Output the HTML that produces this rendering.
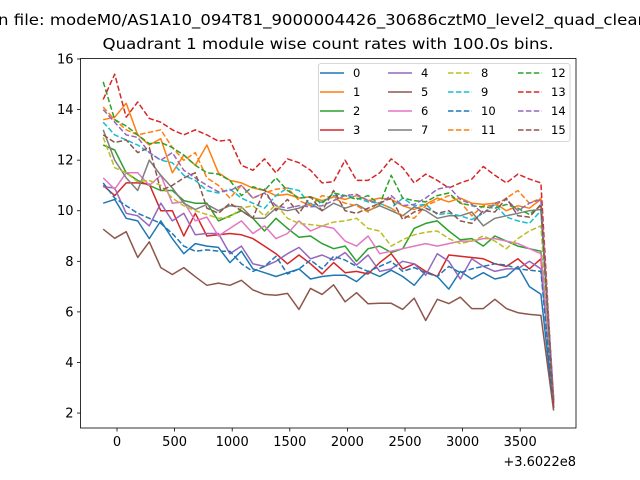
<!DOCTYPE html>
<html><head><meta charset="utf-8"><style>
html,body{margin:0;padding:0;background:#fff}
svg{display:block;font-family:"DejaVu Sans","Liberation Sans",sans-serif}
</style></head><body>
<svg id="chart" width="640" height="480" viewBox="0 0 640 480">
<text x="-2" y="25" font-size="15" textLength="650" lengthAdjust="spacingAndGlyphs">n file: modeM0/AS1A10_094T81_9000004426_30686cztM0_level2_quad_clean</text>
<text x="328" y="49" font-size="15.5" text-anchor="middle" textLength="451" lengthAdjust="spacingAndGlyphs">Quadrant 1 module wise count rates with 100.0s bins.</text>
<g id="plot"></g>
</svg>
<script>
const categories = [-120,-20,80,180,280,380,480,580,680,780,880,980,1080,1180,1280,1380,1480,1580,1680,1780,1880,1980,2080,2180,2280,2380,2480,2580,2680,2780,2880,2980,3080,3180,3280,3380,3480,3580,3680,3790];
const s0 = [10.3,10.45,9.7,9.6,8.9,9.6,8.9,8.3,8.7,8.6,8.55,7.95,8.4,7.7,7.55,7.4,7.55,7.7,7.3,7.4,7.45,7.45,7.2,7.6,7.4,7.65,7.4,7.05,7.6,7.4,6.9,7.6,7.3,7.55,7.3,7.4,7.8,7.0,6.7,2.2];
const s1 = [13.6,13.7,14.25,13.0,12.6,12.85,11.5,12.2,11.8,12.6,11.5,11.2,11.1,10.9,10.8,10.6,10.65,10.5,10.55,10.4,10.55,10.45,10.6,10.4,10.5,10.45,10.2,10.05,10.25,10.5,10.35,10.5,10.3,10.25,10.3,10.0,10.2,10.1,10.45,2.3];
const s2 = [12.6,12.4,11.5,11.2,11.0,10.8,10.8,10.4,10.3,10.3,9.6,9.8,10.0,9.7,9.2,9.7,9.3,8.95,9.0,8.7,8.5,8.6,8.0,8.5,8.6,8.35,8.5,9.3,9.5,9.6,9.2,8.85,8.9,8.6,9.0,8.8,8.6,8.5,8.4,2.4];
const s3 = [11.0,10.6,11.1,11.1,11.05,10.0,10.0,9.0,9.9,9.0,9.05,9.1,9.05,8.9,8.6,8.3,7.9,8.25,7.9,7.5,7.95,7.55,7.6,7.5,7.95,8.3,7.7,7.9,7.6,7.4,8.25,8.2,8.15,8.1,7.9,7.8,8.1,7.7,8.1,2.5];
const s4 = [10.95,10.9,9.9,9.8,9.4,10.3,9.6,9.9,9.05,9.1,9.1,8.3,8.6,7.9,7.8,8.0,8.3,8.55,8.1,8.25,8.05,8.35,7.85,8.25,7.6,7.7,8.0,7.9,7.45,8.3,8.0,7.3,8.1,7.8,7.6,7.7,7.7,8.0,7.7,2.6];
const s5 = [9.27,8.91,9.17,8.15,8.77,7.75,7.48,7.75,7.39,7.05,7.14,7.05,7.25,6.87,6.69,6.66,6.73,6.1,6.93,6.69,7.07,6.4,6.76,6.32,6.34,6.34,6.1,6.54,5.66,6.5,6.33,6.58,6.13,6.13,6.5,6.13,5.97,5.9,5.86,2.1];
const s6 = [11.3,10.85,11.5,11.5,11.0,11.4,10.3,10.35,9.6,9.75,9.0,9.3,9.6,9.1,9.4,8.9,9.1,9.6,9.2,9.4,9.3,8.8,8.6,9.0,8.3,8.4,8.5,8.6,8.7,8.6,8.7,8.8,8.8,8.9,8.9,8.8,8.7,8.5,8.3,2.4];
const s7 = [13.2,12.0,11.3,10.8,12.0,11.4,10.9,10.3,10.05,10.25,10.0,10.2,10.15,9.7,9.7,10.1,10.0,10.1,10.3,10.0,10.3,10.1,10.25,10.0,10.2,10.0,9.8,10.15,10.0,9.7,9.8,9.8,9.95,9.4,9.7,9.8,9.9,10.0,10.05,2.6];
const s8 = [12.9,11.7,11.5,11.15,11.2,11.0,10.5,10.2,10.0,9.85,9.7,9.75,10.1,10.2,9.8,10.25,9.7,9.5,9.45,9.4,9.55,9.6,9.7,9.3,9.2,8.6,8.85,9.05,9.15,9.2,8.9,8.7,8.8,9.0,8.8,8.5,8.9,9.2,9.4,2.3];
const s9 = [13.5,13.0,12.8,12.6,12.3,12.0,11.9,11.4,11.2,10.8,10.7,10.85,10.5,10.3,10.1,10.6,10.9,10.8,10.2,10.35,10.6,10.6,10.5,10.35,10.3,10.1,10.5,10.2,10.25,9.85,9.9,9.8,9.65,9.9,10.25,9.75,9.6,9.5,10.0,2.4];
const s10 = [11.1,10.5,10.2,9.9,9.7,9.5,9.1,8.6,8.4,8.45,8.4,8.4,7.9,7.6,7.8,8.2,7.5,7.7,8.05,7.7,8.2,8.05,7.8,7.6,7.8,8.0,7.6,7.75,7.55,7.4,7.8,7.55,7.7,7.8,7.9,7.85,7.7,7.65,7.6,2.2];
const s11 = [14.1,13.6,13.2,13.0,13.1,13.2,12.5,12.0,12.3,11.3,11.0,10.5,11.0,10.5,10.7,10.85,10.9,10.4,10.2,10.6,10.5,10.3,10.2,9.95,10.3,10.1,9.8,9.7,10.2,10.4,10.6,10.35,9.8,10.2,10.2,10.5,10.8,10.3,10.5,2.5];
const s12 = [15.1,13.6,13.35,13.0,12.65,12.7,12.5,12.2,11.8,11.5,11.45,11.2,10.6,10.95,10.8,11.3,10.8,10.5,10.55,10.3,10.7,10.6,10.45,10.6,10.25,11.4,10.5,10.4,10.35,10.6,10.7,10.3,10.2,10.15,10.1,10.25,10.1,9.85,10.2,2.5];
const s13 = [14.4,15.4,13.7,14.3,13.65,13.5,13.2,13.0,13.2,13.0,12.75,12.8,11.8,11.6,12.05,11.5,12.05,11.9,11.6,11.1,11.15,12.0,11.2,11.2,11.5,12.05,11.7,11.1,11.45,11.2,10.9,11.1,11.25,11.75,11.4,11.1,11.45,11.25,11.1,2.3];
const s14 = [14.0,13.5,13.0,12.9,12.3,12.0,12.3,11.6,11.3,11.0,10.75,10.8,11.0,10.5,10.7,10.2,10.1,10.2,10.15,10.2,10.4,10.6,10.65,10.4,10.3,10.6,10.2,10.25,10.5,10.85,10.95,10.45,10.25,9.9,10.3,10.45,10.0,10.3,10.45,2.6];
const s15 = [13.0,12.7,12.8,12.3,12.5,10.8,11.0,11.3,11.5,10.1,9.9,10.3,10.0,9.7,10.85,10.0,10.45,9.9,10.55,10.0,10.8,10.0,9.9,10.1,10.3,10.5,9.65,9.95,10.1,9.9,10.0,9.6,9.5,10.0,9.95,10.5,9.8,9.75,10.25,2.2];
const seriesNames = ["0","1","2","3","4","5","6","7","8","9","10","11","12","13","14","15"];
const xTicks = [0,500,1000,1500,2000,2500,3000,3500];
const yTicks = [2,4,6,8,10,12,14,16];

const series=[s0,s1,s2,s3,s4,s5,s6,s7,s8,s9,s10,s11,s12,s13,s14,s15];
const colors=["#1f77b4","#ff7f0e","#2ca02c","#d62728","#9467bd","#8c564b","#e377c2","#7f7f7f","#bcbd22","#17becf"];
const NS="http://www.w3.org/2000/svg";
const L=80.5,R=576,T=58.5,B=428;
const xs=v=>117+0.1152*v;
const ys=v=>59+(16-v)*25.29;
const g=document.getElementById('plot');
function mk(tag,attrs,parent){const e=document.createElementNS(NS,tag);for(const k in attrs)e.setAttribute(k,attrs[k]);(parent||g).appendChild(e);return e;}

series.forEach((s,k)=>{
  const d=s.map((v,i)=>(i?'L':'M')+xs(categories[i]).toFixed(1)+' '+ys(v).toFixed(1)).join(' ');
  const p=mk('path',{d:d,fill:'none',stroke:colors[k%10],'stroke-width':1.5,'stroke-linejoin':'round'});
  if(k>=8)p.setAttribute('stroke-dasharray','5.5,2.4');
  
  
});

const frame=mk('rect',{x:L,y:T,width:R-L,height:B-T,fill:'none',stroke:'#000','stroke-width':0.8});



xTicks.forEach(v=>{
  const x=xs(v);
  mk('line',{x1:x,x2:x,y1:B,y2:B+3.5,stroke:'#000','stroke-width':0.8});
  const t=mk('text',{x:x,y:B+18,'font-size':13,'text-anchor':'middle'});
  t.textContent=v;
  
  
});
yTicks.forEach(v=>{
  const y=ys(v);
  mk('line',{x1:L-3.5,x2:L,y1:y,y2:y,stroke:'#000','stroke-width':0.8});
  const t=mk('text',{x:L-7,y:y+4.5,'font-size':13,'text-anchor':'end'});
  t.textContent=v;
  
  
});
const off=mk('text',{x:576,y:466,'font-size':13,'text-anchor':'end'});
off.textContent='+3.6022e8';



const leg=mk('g',{});


mk('rect',{x:318.5,y:63.5,width:251.5,height:78,rx:2.5,fill:'#fff','fill-opacity':0.8,stroke:'#ccc','stroke-width':0.8},leg);
const colX=[320,388,448,518];
const rowY=[73,92,111,130];
series.forEach((s,k)=>{
  const c=Math.floor(k/4),r=k%4;
  const x=colX[c],y=rowY[r];
  const ln=mk('line',{x1:x,x2:x+24,y1:y,y2:y,stroke:colors[k%10],'stroke-width':1.5},leg);
  if(k>=8)ln.setAttribute('stroke-dasharray','5.5,2.4');
  const t=mk('text',{x:x+33,y:y+4,'font-size':11.5},leg);
  t.textContent=seriesNames[k];
  
  
});
</script>
</body></html>
